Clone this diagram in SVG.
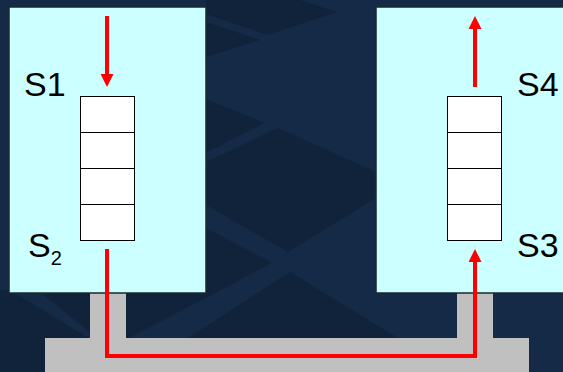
<svg xmlns="http://www.w3.org/2000/svg" width="563" height="372" viewBox="0 0 563 372">
<style>
.bg{fill:#152a47}
.dk{fill:#11233b}
.box{fill:#ccffff;stroke:#1a2a2a;stroke-width:1.5}
.cell{fill:#ffffff;stroke:#000000;stroke-width:1}
.lbl{font-family:"Liberation Sans",Arial,sans-serif;font-size:34px;fill:#000000}
.pipe{fill:#c0c0c0}
.red{fill:none;stroke:#ff0000;stroke-width:4}
</style>
<defs>
<marker id="ah" markerUnits="userSpaceOnUse" markerWidth="13" markerHeight="13" refX="5" refY="6.5" orient="auto">
<path d="M0,0 L13,6.5 L0,13 z" fill="#ff0000"/>
</marker>
</defs>
<g id="background">
<rect class="bg" x="0" y="0" width="563" height="372"/>
<polygon class="dk" points="206,0 300,0 337,12 267,35 206,14"/>
<polygon class="dk" points="206,22 260,40 206,57"/>
<polygon class="dk" points="206,99 265,123 206,153"/>
<polygon class="dk" points="206,162 278,128 376,172 376,198 288,252 206,205"/>
<polygon class="dk" points="206,228 272,263 125,340 100,340 40,292 206,292"/>
<polygon class="dk" points="290,272 398,338 188,338"/>
<polygon class="dk" points="0,290 10,290 92,340 92,372 0,372"/>
</g>
<g id="pipe">
<rect class="pipe" x="90" y="293" width="36" height="46"/>
<rect class="pipe" x="457" y="293" width="36" height="46"/>
<rect class="pipe" x="45" y="338" width="484" height="34"/>
</g>
<g id="site-left">
<rect class="box" x="9" y="7" width="197" height="286"/>
<g id="queue-left">
<rect class="cell" x="80.5" y="96.5" width="54" height="36"/>
<rect class="cell" x="80.5" y="132.5" width="54" height="36"/>
<rect class="cell" x="80.5" y="168.5" width="54" height="36"/>
<rect class="cell" x="80.5" y="204.5" width="54" height="36"/>
</g>
<text class="lbl" x="24" y="96">S1</text>
<text class="lbl" x="28" y="257">S<tspan font-size="20" dy="8">2</tspan></text>
</g>
<g id="site-right">
<rect class="box" x="376" y="7" width="200" height="286"/>
<g id="queue-right">
<rect class="cell" x="447.5" y="96.5" width="54" height="36"/>
<rect class="cell" x="447.5" y="132.5" width="54" height="36"/>
<rect class="cell" x="447.5" y="168.5" width="54" height="36"/>
<rect class="cell" x="447.5" y="204.5" width="54" height="36"/>
</g>
<text class="lbl" x="517" y="96">S4</text>
<text class="lbl" x="517" y="257">S3</text>
</g>
<g id="connectors">
<line class="red" x1="107" y1="16" x2="107" y2="79" marker-end="url(#ah)"/>
<line class="red" x1="475" y1="87" x2="475" y2="24" marker-end="url(#ah)"/>
<path class="red" d="M107,249 V356 H475 V257" marker-end="url(#ah)"/>
</g>
</svg>
